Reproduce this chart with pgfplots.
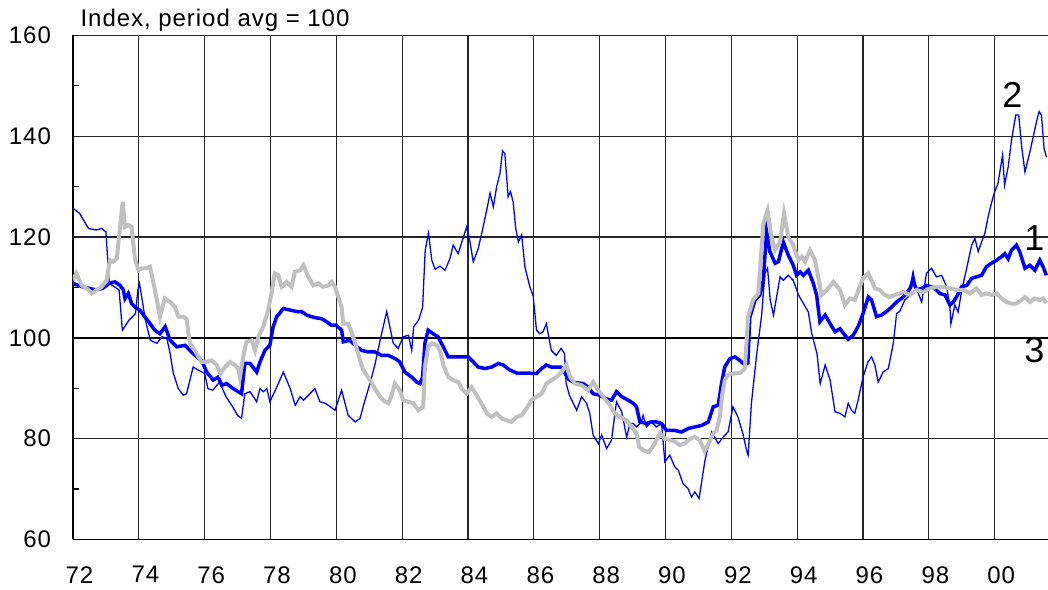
\documentclass[border=0pt]{standalone}
\usepackage{fontspec}
\setmainfont[LetterSpace=4]{Liberation Sans}
\usepackage{pgfplots}
\pgfplotsset{compat=1.18}
\definecolor{ser}{RGB}{0,0,255}
\definecolor{gr}{RGB}{192,192,192}
\begin{document}
\begin{tikzpicture}
\begin{axis}[
  scale only axis, width=487.5pt, height=251.9pt,
  xmin=72, xmax=101.62, ymin=60, ymax=160,
  xtick={72,74,...,100},
  xticklabels={72,74,76,78,80,82,84,86,88,90,92,94,96,98,00},
  ytick={60,80,...,160},
  yticklabels={60,80,100,120,140,160},
  minor ytick={70,90,110,130,150},
  grid=major,
  major grid style={black!85, line width=0.6pt},
  axis x line*=bottom, axis y line*=left,
  axis line style={black, line width=0.8pt, -},
  major tick style={draw=none},
  minor tick style={draw=black, line width=0.6pt},
  minor tick length=3pt, tick align=inside,
  ticklabel style={font=\fontsize{12}{14}\selectfont},
  xticklabel style={xshift=3.25pt, yshift=-10pt},
  yticklabel style={xshift=-7.5pt},
  /pgf/number format/assume math mode=true,
  clip mode=individual,
]
\draw[black, line width=1.1pt] (axis cs:72,100) -- (axis cs:101.62,100);
% series 2 thin blue
\addplot[ser, line width=0.65pt] coordinates {
(72.0,125.7)(72.2,124.7)(72.47,121.7)(72.7,121.4)(72.87,121.7)(73.0,121.0)(73.1,110.8)(73.4,109.5)(73.5,101.5)(73.7,103.5)(73.9,104.8)(73.97,109.5)(74.02,110.8)(74.2,103.5)(74.35,99.5)(74.55,98.9)(74.7,100.2)(74.85,99.9)(74.95,96.9)(75.05,92.9)(75.2,89.9)(75.35,88.6)(75.45,88.9)(75.65,94.2)(75.8,93.6)(76.0,92.9)(76.1,89.9)(76.25,89.6)(76.45,91.2)(76.65,88.3)(76.85,86.3)(77.0,84.6)(77.12,84.0)(77.22,88.9)(77.38,89.3)(77.58,87.3)(77.68,89.9)(77.78,89.3)(77.89,89.9)(77.98,87.3)(78.19,90.2)(78.39,93.2)(78.6,89.9)(78.75,86.6)(78.9,88.3)(79.0,87.6)(79.35,89.9)(79.5,87.3)(79.66,87.0)(79.8,86.4)(79.96,85.6)(80.16,89.6)(80.36,84.6)(80.57,83.3)(80.72,84.0)(80.87,87.6)(81.02,90.9)(81.17,94.6)(81.33,99.5)(81.53,105.2)(81.73,98.9)(81.88,97.9)(82.03,100.2)(82.19,100.5)(82.29,97.5)(82.35,102.2)(82.5,103.5)(82.62,106.0)(82.7,117.4)(82.8,120.8)(82.9,115.4)(83.0,113.6)(83.15,114.2)(83.3,113.4)(83.45,115.7)(83.55,118.4)(83.7,116.7)(83.96,122.0)(84.06,119.0)(84.16,115.1)(84.31,117.7)(84.46,122.0)(84.61,126.7)(84.67,128.7)(84.77,126.0)(84.87,130.0)(84.97,132.6)(85.05,137.1)(85.12,136.5)(85.22,128.0)(85.29,129.0)(85.37,127.0)(85.45,121.7)(85.53,119.0)(85.63,120.4)(85.73,114.0)(85.88,110.1)(85.98,108.3)(86.08,101.5)(86.18,100.8)(86.28,101.2)(86.38,102.8)(86.53,97.5)(86.68,96.5)(86.83,97.9)(86.93,96.9)(86.98,91.0)(87.08,88.6)(87.3,85.6)(87.45,88.3)(87.6,87.0)(87.7,85.0)(87.8,80.7)(87.96,79.0)(88.06,80.7)(88.21,78.0)(88.36,79.7)(88.51,87.3)(88.67,85.3)(88.82,80.3)(88.92,83.0)(89.02,83.0)(89.12,82.3)(89.27,83.3)(89.32,84.6)(89.42,82.3)(89.57,83.3)(89.72,82.3)(89.88,83.0)(89.98,75.4)(90.13,76.7)(90.28,74.4)(90.39,73.7)(90.53,71.1)(90.68,70.1)(90.79,68.4)(90.89,69.4)(91.02,68.1)(91.2,75.7)(91.4,81.3)(91.6,79.0)(91.75,80.3)(91.9,81.3)(92.05,86.3)(92.2,84.3)(92.35,81.0)(92.46,77.7)(92.51,76.7)(92.61,87.0)(92.76,96.2)(92.92,104.5)(93.02,112.8)(93.1,113.8)(93.18,107.5)(93.28,104.5)(93.48,112.1)(93.58,111.4)(93.73,112.4)(93.88,111.4)(94.04,108.5)(94.19,106.8)(94.34,105.1)(94.44,100.9)(94.6,96.9)(94.7,90.9)(94.85,94.6)(95.0,91.6)(95.15,85.3)(95.3,85.0)(95.45,84.3)(95.55,87.0)(95.65,85.6)(95.75,85.0)(95.85,87.6)(96.0,92.2)(96.15,95.2)(96.26,96.2)(96.36,94.6)(96.46,91.2)(96.61,93.2)(96.77,93.9)(96.92,98.9)(97.02,104.8)(97.12,105.3)(97.27,107.5)(97.37,108.1)(97.52,113.1)(97.62,109.8)(97.78,107.1)(97.93,112.8)(98.08,113.8)(98.23,112.1)(98.39,112.4)(98.54,110.1)(98.64,106.1)(98.67,102.8)(98.79,106.5)(98.89,105.1)(99.0,109.5)(99.15,113.8)(99.3,118.4)(99.4,119.7)(99.5,117.1)(99.6,119.0)(99.7,120.7)(99.8,124.0)(99.9,126.7)(100.0,129.0)(100.1,130.6)(100.24,136.3)(100.3,130.3)(100.41,133.9)(100.51,139.2)(100.64,144.2)(100.73,144.2)(100.82,137.9)(100.92,132.9)(101.07,136.9)(101.17,139.9)(101.28,143.2)(101.35,144.9)(101.42,144.2)(101.5,137.6)(101.57,135.9)
};
% series 1 thick blue
\addplot[ser, line width=1.75pt] coordinates {
(72.0,110.8)(72.3,110.1)(72.5,109.8)(72.7,109.5)(72.9,109.8)(73.1,110.8)(73.27,111.1)(73.43,110.4)(73.53,109.5)(73.58,107.8)(73.68,108.8)(73.78,106.8)(73.88,106.1)(74.03,105.5)(74.19,104.1)(74.34,102.8)(74.49,101.5)(74.64,100.8)(74.8,102.2)(74.95,99.5)(75.15,98.2)(75.4,98.5)(75.55,97.5)(75.76,96.2)(75.91,95.5)(76.06,93.2)(76.26,91.6)(76.41,92.2)(76.52,90.6)(76.67,90.9)(76.87,89.9)(77.02,89.3)(77.12,88.9)(77.22,94.9)(77.38,94.9)(77.58,93.2)(77.68,95.2)(77.83,97.5)(77.98,98.5)(78.08,102.2)(78.19,104.2)(78.39,105.8)(78.6,105.5)(78.8,105.2)(78.95,105.2)(79.1,104.5)(79.35,104.0)(79.55,103.8)(79.7,103.2)(79.85,102.5)(80.0,102.5)(80.16,101.5)(80.21,99.2)(80.41,99.5)(80.57,98.5)(80.77,97.5)(80.97,97.2)(81.17,97.2)(81.38,96.5)(81.58,96.5)(81.78,95.9)(81.93,95.2)(82.08,93.2)(82.29,92.2)(82.44,91.2)(82.54,90.9)(82.62,92.2)(82.69,98.9)(82.79,101.5)(82.94,100.8)(83.09,100.2)(83.25,98.2)(83.4,96.2)(83.65,96.2)(83.86,96.2)(84.01,96.2)(84.16,95.2)(84.31,94.2)(84.51,93.9)(84.72,94.2)(84.92,94.9)(85.07,94.6)(85.27,93.6)(85.48,93.0)(85.78,93.0)(86.08,92.9)(86.24,93.9)(86.38,94.6)(86.53,94.2)(86.83,94.2)(86.95,92.9)(87.05,91.8)(87.2,91.2)(87.5,90.9)(87.65,90.2)(87.8,88.9)(88.0,88.6)(88.2,87.9)(88.36,87.6)(88.51,89.3)(88.67,88.3)(88.87,87.6)(89.02,87.0)(89.12,86.3)(89.22,83.3)(89.42,83.0)(89.57,83.3)(89.72,83.3)(89.88,83.0)(90.03,81.6)(90.28,81.6)(90.49,81.3)(90.69,82.0)(90.89,82.3)(91.1,82.6)(91.3,83.3)(91.45,86.3)(91.6,86.6)(91.7,90.9)(91.8,94.2)(91.96,95.9)(92.11,96.2)(92.26,95.5)(92.41,94.6)(92.5,95.0)(92.56,104.0)(92.72,107.5)(92.87,108.5)(92.97,111.4)(93.07,121.0)(93.17,117.1)(93.33,114.8)(93.43,115.1)(93.58,119.0)(93.73,116.4)(93.88,114.4)(93.98,112.4)(94.09,113.1)(94.19,112.4)(94.34,113.4)(94.49,110.8)(94.59,108.5)(94.69,103.2)(94.85,104.5)(95.0,102.8)(95.15,101.2)(95.3,101.8)(95.45,100.5)(95.55,99.7)(95.7,100.5)(95.85,102.2)(96.0,104.8)(96.16,108.1)(96.26,107.5)(96.41,104.2)(96.56,104.5)(96.71,105.2)(96.87,106.1)(97.02,107.1)(97.17,107.8)(97.27,108.5)(97.43,109.8)(97.52,111.4)(97.62,109.5)(97.78,109.8)(97.93,110.4)(98.08,110.1)(98.23,109.5)(98.33,108.8)(98.49,108.5)(98.64,106.5)(98.74,107.1)(98.84,108.1)(98.99,110.1)(99.15,110.4)(99.3,111.8)(99.45,112.1)(99.6,112.4)(99.75,114.1)(99.9,114.8)(100.06,115.4)(100.21,116.1)(100.31,116.7)(100.41,115.7)(100.51,117.4)(100.66,118.4)(100.76,117.1)(100.92,113.8)(101.07,114.4)(101.22,113.4)(101.37,115.4)(101.47,114.1)(101.57,112.4)
};
% series 3 gray
\addplot[gr, line width=2pt] coordinates {
(72.0,111.4)(72.1,112.8)(72.26,110.4)(72.42,109.8)(72.57,108.8)(72.72,109.5)(72.87,110.1)(73.02,111.4)(73.12,115.4)(73.22,115.1)(73.33,115.7)(73.43,122.0)(73.51,127.0)(73.58,122.0)(73.68,122.4)(73.78,122.0)(73.88,115.7)(73.99,113.4)(74.09,113.8)(74.24,113.8)(74.34,114.1)(74.49,109.5)(74.64,104.2)(74.79,107.8)(74.95,107.1)(75.1,106.1)(75.2,104.2)(75.35,104.2)(75.45,103.8)(75.55,98.9)(75.7,97.5)(75.9,95.2)(76.05,95.2)(76.21,95.5)(76.37,94.6)(76.47,92.9)(76.62,94.2)(76.77,95.2)(76.92,94.6)(77.02,93.9)(77.07,92.2)(77.17,96.2)(77.27,99.2)(77.43,99.5)(77.53,97.5)(77.63,100.2)(77.78,102.2)(77.93,105.5)(78.03,108.8)(78.13,112.8)(78.24,112.4)(78.34,110.1)(78.49,111.1)(78.64,110.1)(78.74,113.1)(78.9,113.4)(79.0,114.4)(79.15,112.1)(79.3,110.4)(79.45,110.8)(79.6,110.1)(79.76,110.4)(79.86,111.1)(79.96,110.1)(80.06,108.1)(80.16,106.1)(80.21,102.8)(80.36,102.8)(80.46,101.2)(80.57,98.9)(80.72,95.5)(80.82,93.6)(80.92,92.6)(81.07,91.2)(81.17,89.9)(81.33,88.3)(81.48,87.3)(81.58,87.0)(81.68,88.6)(81.78,90.9)(81.93,89.6)(82.03,87.6)(82.19,87.3)(82.34,87.0)(82.49,85.6)(82.64,86.3)(82.69,94.2)(82.79,98.2)(82.9,98.9)(83.05,98.5)(83.15,97.5)(83.25,94.6)(83.4,92.2)(83.55,91.6)(83.71,91.2)(83.81,89.9)(83.96,88.9)(84.11,90.2)(84.26,88.6)(84.41,87.0)(84.57,85.0)(84.72,84.3)(84.87,85.0)(85.02,84.0)(85.17,83.6)(85.32,83.3)(85.48,84.3)(85.63,84.6)(85.78,86.0)(85.93,87.6)(86.08,88.3)(86.24,88.9)(86.38,90.9)(86.54,91.6)(86.69,92.2)(86.84,93.2)(86.99,94.6)(87.1,92.2)(87.25,90.9)(87.45,90.6)(87.65,89.6)(87.8,91.2)(87.96,89.6)(88.11,88.3)(88.31,86.6)(88.46,85.0)(88.62,84.3)(88.82,83.6)(88.97,82.3)(89.12,81.0)(89.2,78.3)(89.35,77.6)(89.5,77.3)(89.67,79.0)(89.83,81.0)(89.98,80.0)(90.13,79.7)(90.28,79.4)(90.43,78.7)(90.58,79.0)(90.73,79.9)(90.89,80.3)(91.04,79.7)(91.19,77.5)(91.34,79.4)(91.45,81.0)(91.55,81.6)(91.65,84.3)(91.72,88.6)(91.8,91.6)(91.9,92.6)(92.06,92.9)(92.26,93.0)(92.41,93.9)(92.51,104.2)(92.66,107.5)(92.82,108.8)(92.97,122.7)(93.1,125.3)(93.22,120.0)(93.33,117.4)(93.48,119.0)(93.6,124.7)(93.73,120.0)(93.88,118.4)(94.04,115.4)(94.14,116.1)(94.24,115.1)(94.39,117.4)(94.54,115.4)(94.64,112.1)(94.74,108.5)(94.9,109.5)(95.1,111.1)(95.3,109.5)(95.45,106.5)(95.6,107.8)(95.75,107.5)(95.9,110.1)(96.0,111.8)(96.16,112.8)(96.26,111.4)(96.36,109.8)(96.51,109.5)(96.66,108.5)(96.81,108.1)(96.97,108.5)(97.12,108.8)(97.22,109.1)(97.43,108.5)(97.62,109.5)(97.83,109.1)(98.03,109.8)(98.23,110.1)(98.44,110.1)(98.64,109.8)(98.84,109.5)(99.05,109.5)(99.25,108.8)(99.45,109.8)(99.6,108.5)(99.75,108.8)(99.9,108.5)(100.06,108.8)(100.21,107.8)(100.36,107.1)(100.51,106.8)(100.66,106.8)(100.82,107.5)(100.92,108.1)(101.07,107.1)(101.22,107.8)(101.37,107.5)(101.47,107.8)(101.57,106.9)
};
\coordinate (sw) at (rel axis cs:0,0);
\coordinate (ne) at (rel axis cs:1,1);
\node[anchor=base west, inner sep=0, font=\fontsize{12}{14}\selectfont] at ([xshift=3.6pt, yshift=4.4pt]rel axis cs:0,1) {Index, period avg = 100};
\node[anchor=base west, inner sep=0, font=\fontsize{18}{20}\selectfont] at (axis cs:100.22,145.8) {2};
\node[anchor=base west, inner sep=0, font=\fontsize{18}{20}\selectfont] at (axis cs:100.89,117.4) {1};
\node[anchor=base west, inner sep=0, font=\fontsize{18}{20}\selectfont] at (axis cs:100.89,95.15) {3};
\end{axis}
\pgfresetboundingbox
\path ([xshift=-36.5pt, yshift=-24.85pt]sw) rectangle ([yshift=17.75pt]ne);
\end{tikzpicture}
\end{document}
